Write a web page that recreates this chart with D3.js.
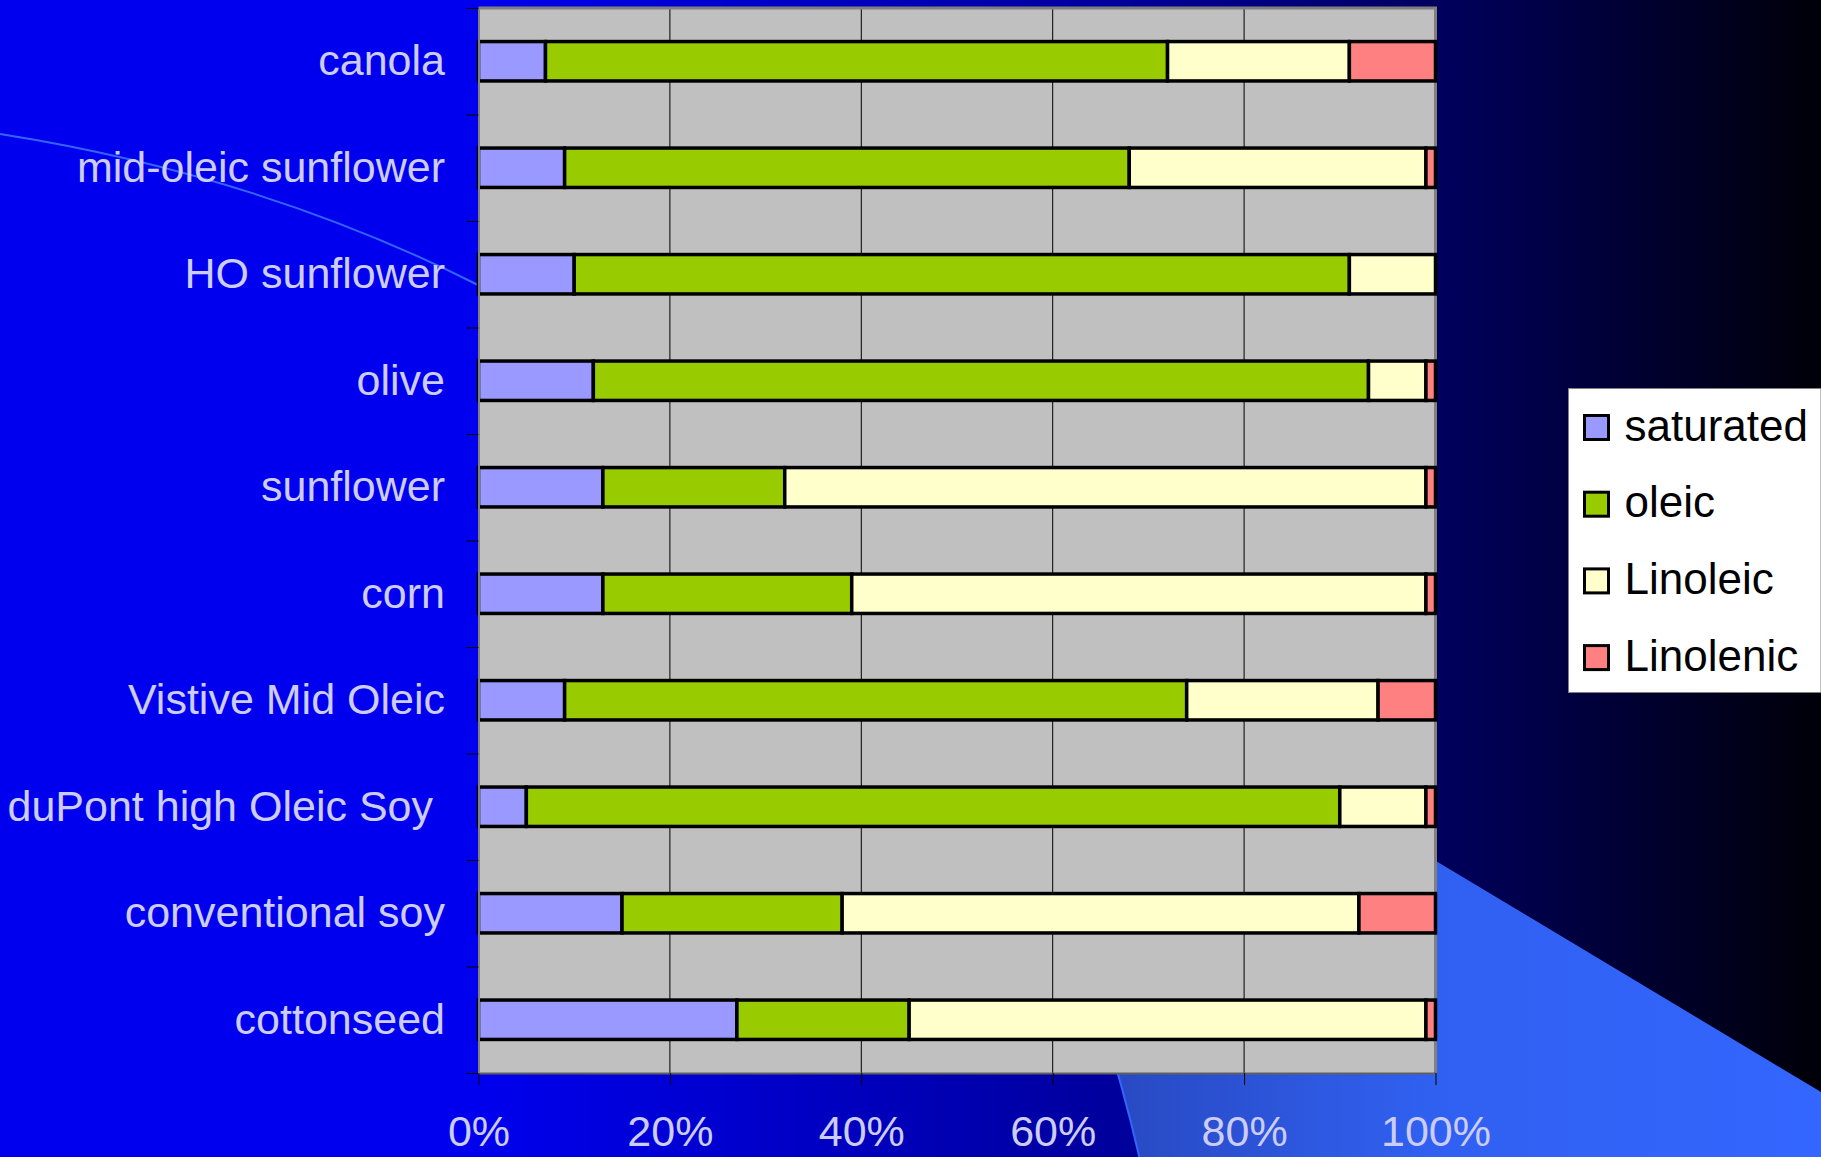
<!DOCTYPE html>
<html>
<head>
<meta charset="utf-8">
<script src="https://cdn.jsdelivr.net/npm/d3@7"></script>
<style>
  body { margin: 0; background: #0000ee; }
  svg { display: block; }
  text { font-family: "Liberation Sans", Arial, sans-serif; }
</style>
</head>
<body>
<svg width="1821" height="1157"></svg>
<script>
const categories = ["canola", "mid-oleic sunflower", "HO sunflower", "olive", "sunflower",
    "corn", "Vistive Mid Oleic", "duPont high Oleic Soy", "conventional soy", "cottonseed"];
const saturated = [7, 9, 10, 12, 13, 13, 9, 5, 15, 27];
const oleic     = [65, 59, 81, 81, 19, 26, 65, 85, 23, 18];
const linoleic  = [19, 31, 9, 6, 67, 60, 20, 9, 54, 54];
const linolenic = [9, 1, 0, 1, 1, 1, 6, 1, 8, 1];
const seriesNames = ["saturated", "oleic", "Linoleic", "Linolenic"];
const xTicks = [0, 20, 40, 60, 80, 100];

const colors = ["#9999ff", "#99cc00", "#ffffcc", "#ff8080"];

const svg = d3.select("svg");
const width = +svg.attr("width");
const height = +svg.attr("height");

const margin = { top: 8, right: 385.5, bottom: 84, left: 478.5 };
const innerWidth = width - margin.left - margin.right;
const innerHeight = height - margin.top - margin.bottom;

// slide background
const defs = svg.append("defs");
const bg = defs.append("linearGradient").attr("id", "bg")
    .attr("gradientUnits", "userSpaceOnUse")
    .attr("x1", 0).attr("x2", width).attr("y1", 0).attr("y2", 0);
[[0, "#0000ee"], [0.2625, "#0000ee"], [0.615, "#00009c"], [0.79, "#00005e"], [1, "#000008"]]
    .forEach(s => bg.append("stop").attr("offset", s[0]).attr("stop-color", s[1]));
const lb = defs.append("linearGradient").attr("id", "lb")
    .attr("gradientUnits", "userSpaceOnUse")
    .attr("x1", 1100).attr("x2", width).attr("y1", 0).attr("y2", 0);
[[0, "#2848c0"], [0.45, "#3060f0"], [1, "#3366ff"]]
    .forEach(s => lb.append("stop").attr("offset", s[0]).attr("stop-color", s[1]));

svg.append("rect").attr("width", width).attr("height", height).attr("fill", "url(#bg)");
svg.append("path")
    .attr("d", "M478,285 Q1000,548.6 1140,1160 L1821,1160 L1821,1092 L1436,861 L900,539 Z")
    .attr("fill", "url(#lb)");
svg.append("path")
    .attr("d", "M0,134 Q260,175 478,285 Q1000,548.6 1140,1160")
    .attr("fill", "none").attr("stroke", "#3366ff").attr("stroke-width", 2);

// scales
const x = d3.scaleLinear().domain([0, 100]).range([margin.left, margin.left + innerWidth]);
const y = d3.scaleBand().domain(categories)
    .range([margin.top, margin.top + innerHeight])
    .paddingInner(0.63).paddingOuter(0.315);
const yEdge = d3.scaleLinear().domain([0, categories.length])
    .range([margin.top, margin.top + innerHeight]);

// plot area
svg.append("rect")
    .attr("x", margin.left).attr("y", margin.top)
    .attr("width", innerWidth).attr("height", innerHeight)
    .attr("fill", "#c0c0c0");

svg.append("g").selectAll("line")
    .data(xTicks.slice(1, -1))
    .join("line")
    .attr("x1", d => x(d)).attr("x2", d => x(d))
    .attr("y1", margin.top).attr("y2", margin.top + innerHeight)
    .attr("stroke", "#000").attr("stroke-width", 1);

// border top + right
svg.append("path")
    .attr("d", `M${margin.left},${margin.top}H${margin.left + innerWidth}V${margin.top + innerHeight}`)
    .attr("fill", "none").attr("stroke", "#808080").attr("stroke-width", 3);

// stacked bars
const table = categories.map((c, i) => ({
    cat: c, saturated: saturated[i], oleic: oleic[i], Linoleic: linoleic[i], Linolenic: linolenic[i]
}));
const stacked = d3.stack().keys(seriesNames)(table);

svg.append("g").selectAll("g")
    .data(stacked)
    .join("g")
    .attr("fill", (d, i) => colors[i])
    .selectAll("rect")
    .data(d => d.filter(s => s[1] > s[0]))
    .join("rect")
    .attr("x", d => x(d[0]))
    .attr("y", d => y(d.data.cat))
    .attr("width", d => x(d[1]) - x(d[0]))
    .attr("height", y.bandwidth())
    .attr("stroke", "#000")
    .attr("stroke-width", 3.5);

// axes
const xAxisG = svg.append("g")
    .attr("transform", `translate(0,${margin.top + innerHeight})`)
    .call(d3.axisBottom(x).tickValues(xTicks).tickFormat(d => d + "%").tickSize(12).tickSizeOuter(0));
xAxisG.select(".domain").attr("stroke", "#606060").attr("stroke-width", 2);
xAxisG.selectAll(".tick line").attr("stroke", "#000");
xAxisG.selectAll(".tick text")
    .attr("y", 73).attr("dy", 0)
    .attr("fill", "#ccccff").attr("font-size", 43);

// ticks on the left sit between the categories
const yAxisG = svg.append("g")
    .attr("transform", `translate(${margin.left},0)`)
    .call(d3.axisLeft(yEdge).ticks(categories.length).tickSize(12).tickSizeOuter(0));
yAxisG.select(".domain").attr("stroke", "#808080").attr("stroke-width", 2);
yAxisG.selectAll(".tick line").attr("stroke", "#000");
yAxisG.selectAll(".tick text").remove();

// the duPont label sits a little left in the reference (trailing space)
svg.append("g").selectAll("text")
    .data(categories)
    .join("text")
    .attr("x", d => d.startsWith("duPont") ? 433 : 445)
    .attr("y", d => y(d) + y.bandwidth() / 2 + 14)
    .attr("text-anchor", "end")
    .attr("fill", "#ccccff")
    .attr("font-size", 43)
    .text(d => d);

// legend (runs to the right edge of the slide)
const legend = svg.append("g");
legend.append("rect")
    .attr("x", 1568.5).attr("y", 388.5).attr("width", width - 1568.5).attr("height", 304)
    .attr("fill", "#fff").attr("stroke", "#808080").attr("stroke-width", 1);
const item = legend.selectAll("g.item")
    .data(seriesNames)
    .join("g").attr("class", "item")
    .attr("transform", (d, i) => `translate(1584.5,${415.5 + i * 76.7})`);
item.append("rect")
    .attr("width", 24).attr("height", 24)
    .attr("fill", (d, i) => colors[i])
    .attr("stroke", "#000").attr("stroke-width", 3);
item.append("text")
    .attr("x", 40).attr("y", 25)
    .attr("font-size", 44).attr("fill", "#000")
    .text(d => d);
</script>
</body>
</html>
